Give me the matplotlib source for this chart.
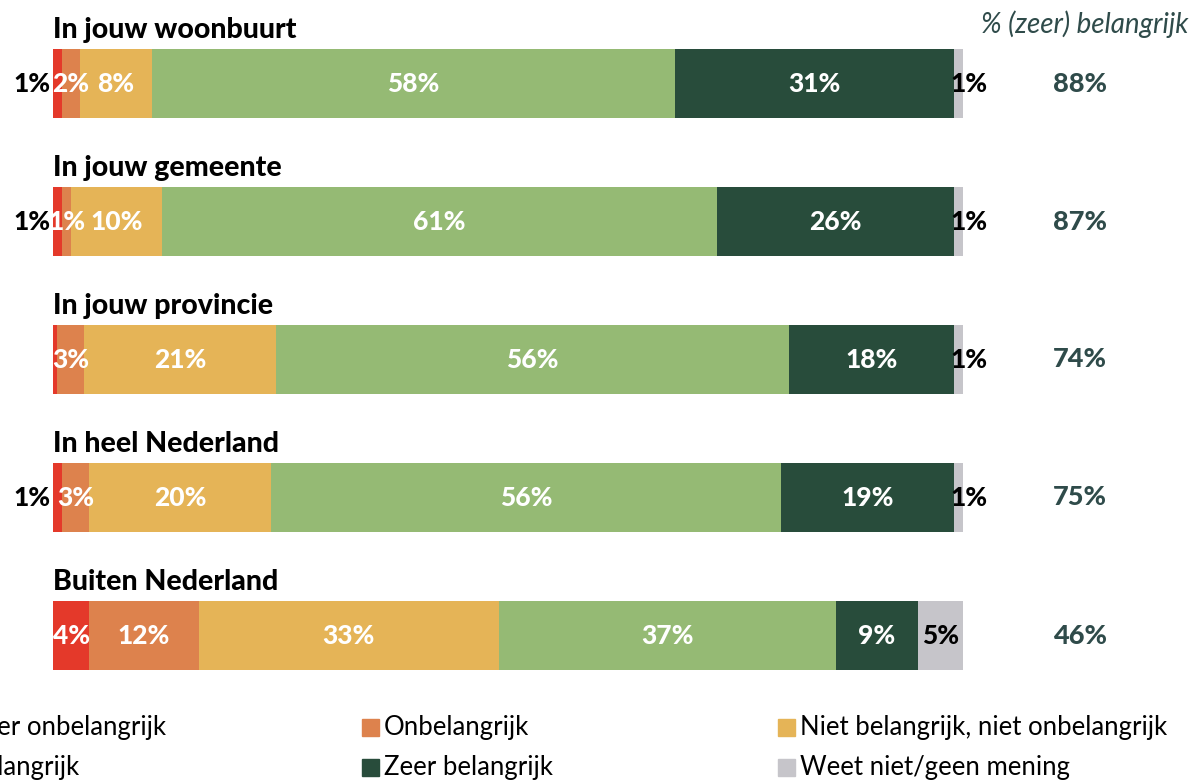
import matplotlib.pyplot as plt
from matplotlib.patches import Rectangle

# data
regions = ['In jouw woonbuurt', 'In jouw gemeente', 'In jouw provincie',
           'In heel Nederland', 'Buiten Nederland']
answers = ['Zeer onbelangrijk', 'Onbelangrijk', 'Niet belangrijk, niet onbelangrijk',
           'Belangrijk', 'Zeer belangrijk', 'Weet niet/geen mening']
zeer_onbelangrijk = [1, 1, 0.4, 1, 4]
onbelangrijk = [2, 1, 3, 3, 12]
neutraal = [8, 10, 21, 20, 33]
belangrijk = [58, 61, 56, 56, 37]
zeer_belangrijk = [31, 26, 18, 19, 9]
weet_niet = [1, 1, 1, 1, 5]
totaal_belangrijk = [88, 87, 74, 75, 46]

series = [zeer_onbelangrijk, onbelangrijk, neutraal, belangrijk, zeer_belangrijk, weet_niet]
colors = ['#E4392A', '#DD824D', '#E5B457', '#95BA74', '#284C3B', '#C6C5CA']
dark = '#2F4B4A'

plt.rcParams['font.family'] = ['Lato', 'DejaVu Sans']
BOLD = 900

W, H = 1194, 780
fig = plt.figure(figsize=(W / 100, H / 100), dpi=100)
ax = fig.add_axes([53 / W, 0, 910 / W, 1])
ax.set_xlim(0, 100)
ax.set_ylim((H - 83.5) / 138, -83.5 / 138)
ax.axis('off')

for i in range(len(regions)):
    vals = [s[i] for s in series]
    total = sum(vals)
    left = 0
    for j, v in enumerate(vals):
        w = v / total * 100
        ax.barh(i, w, left=left, height=0.5, color=colors[j], edgecolor='none')
        lab = '%d%%' % round(v)
        if v >= 0.5:
            if j == 0 and v < 2:
                ax.text(left - 0.3, i, lab, ha='right', va='center', fontsize=19,
                        fontweight=BOLD, color='black')
            elif j == 5 and v < 2:
                ax.text(left - 0.4, i, lab, ha='left', va='center', fontsize=19,
                        fontweight=BOLD, color='black')
            else:
                c = 'black' if j == 5 else 'white'
                ax.text(left + w / 2, i, lab, ha='center', va='center', fontsize=19,
                        fontweight=BOLD, color=c)
        left += w
    ax.text(0, i - 0.39, regions[i], ha='left', va='center', fontsize=20.5,
            fontweight=BOLD, color='black')
    fig.text(1080 / W, 1 - (83.5 + 138 * i) / H, '%d%%' % totaal_belangrijk[i],
             ha='center', va='center', fontsize=19.5, fontweight=BOLD, color=dark)

fig.text(1188 / W, 1 - 24 / H, '% (zeer) belangrijk', ha='right', va='center',
         fontsize=20, style='italic', color=dark)

# legend, placed by hand (first column runs off the left edge)
leg_x = [-54, 362, 778]
leg_y = [727, 767]
order = [[0, 3], [1, 4], [2, 5]]
for c, x in enumerate(leg_x):
    for r, y in enumerate(leg_y):
        k = order[c][r]
        fig.patches.append(Rectangle((x / W, 1 - (y + 9) / H), 17 / W, 17 / H,
                                     transform=fig.transFigure, color=colors[k]))
        fig.text((x + 22) / W, 1 - y / H, answers[k], ha='left', va='center',
                 fontsize=18.5, color='black')

plt.savefig('out.png', dpi=100)
